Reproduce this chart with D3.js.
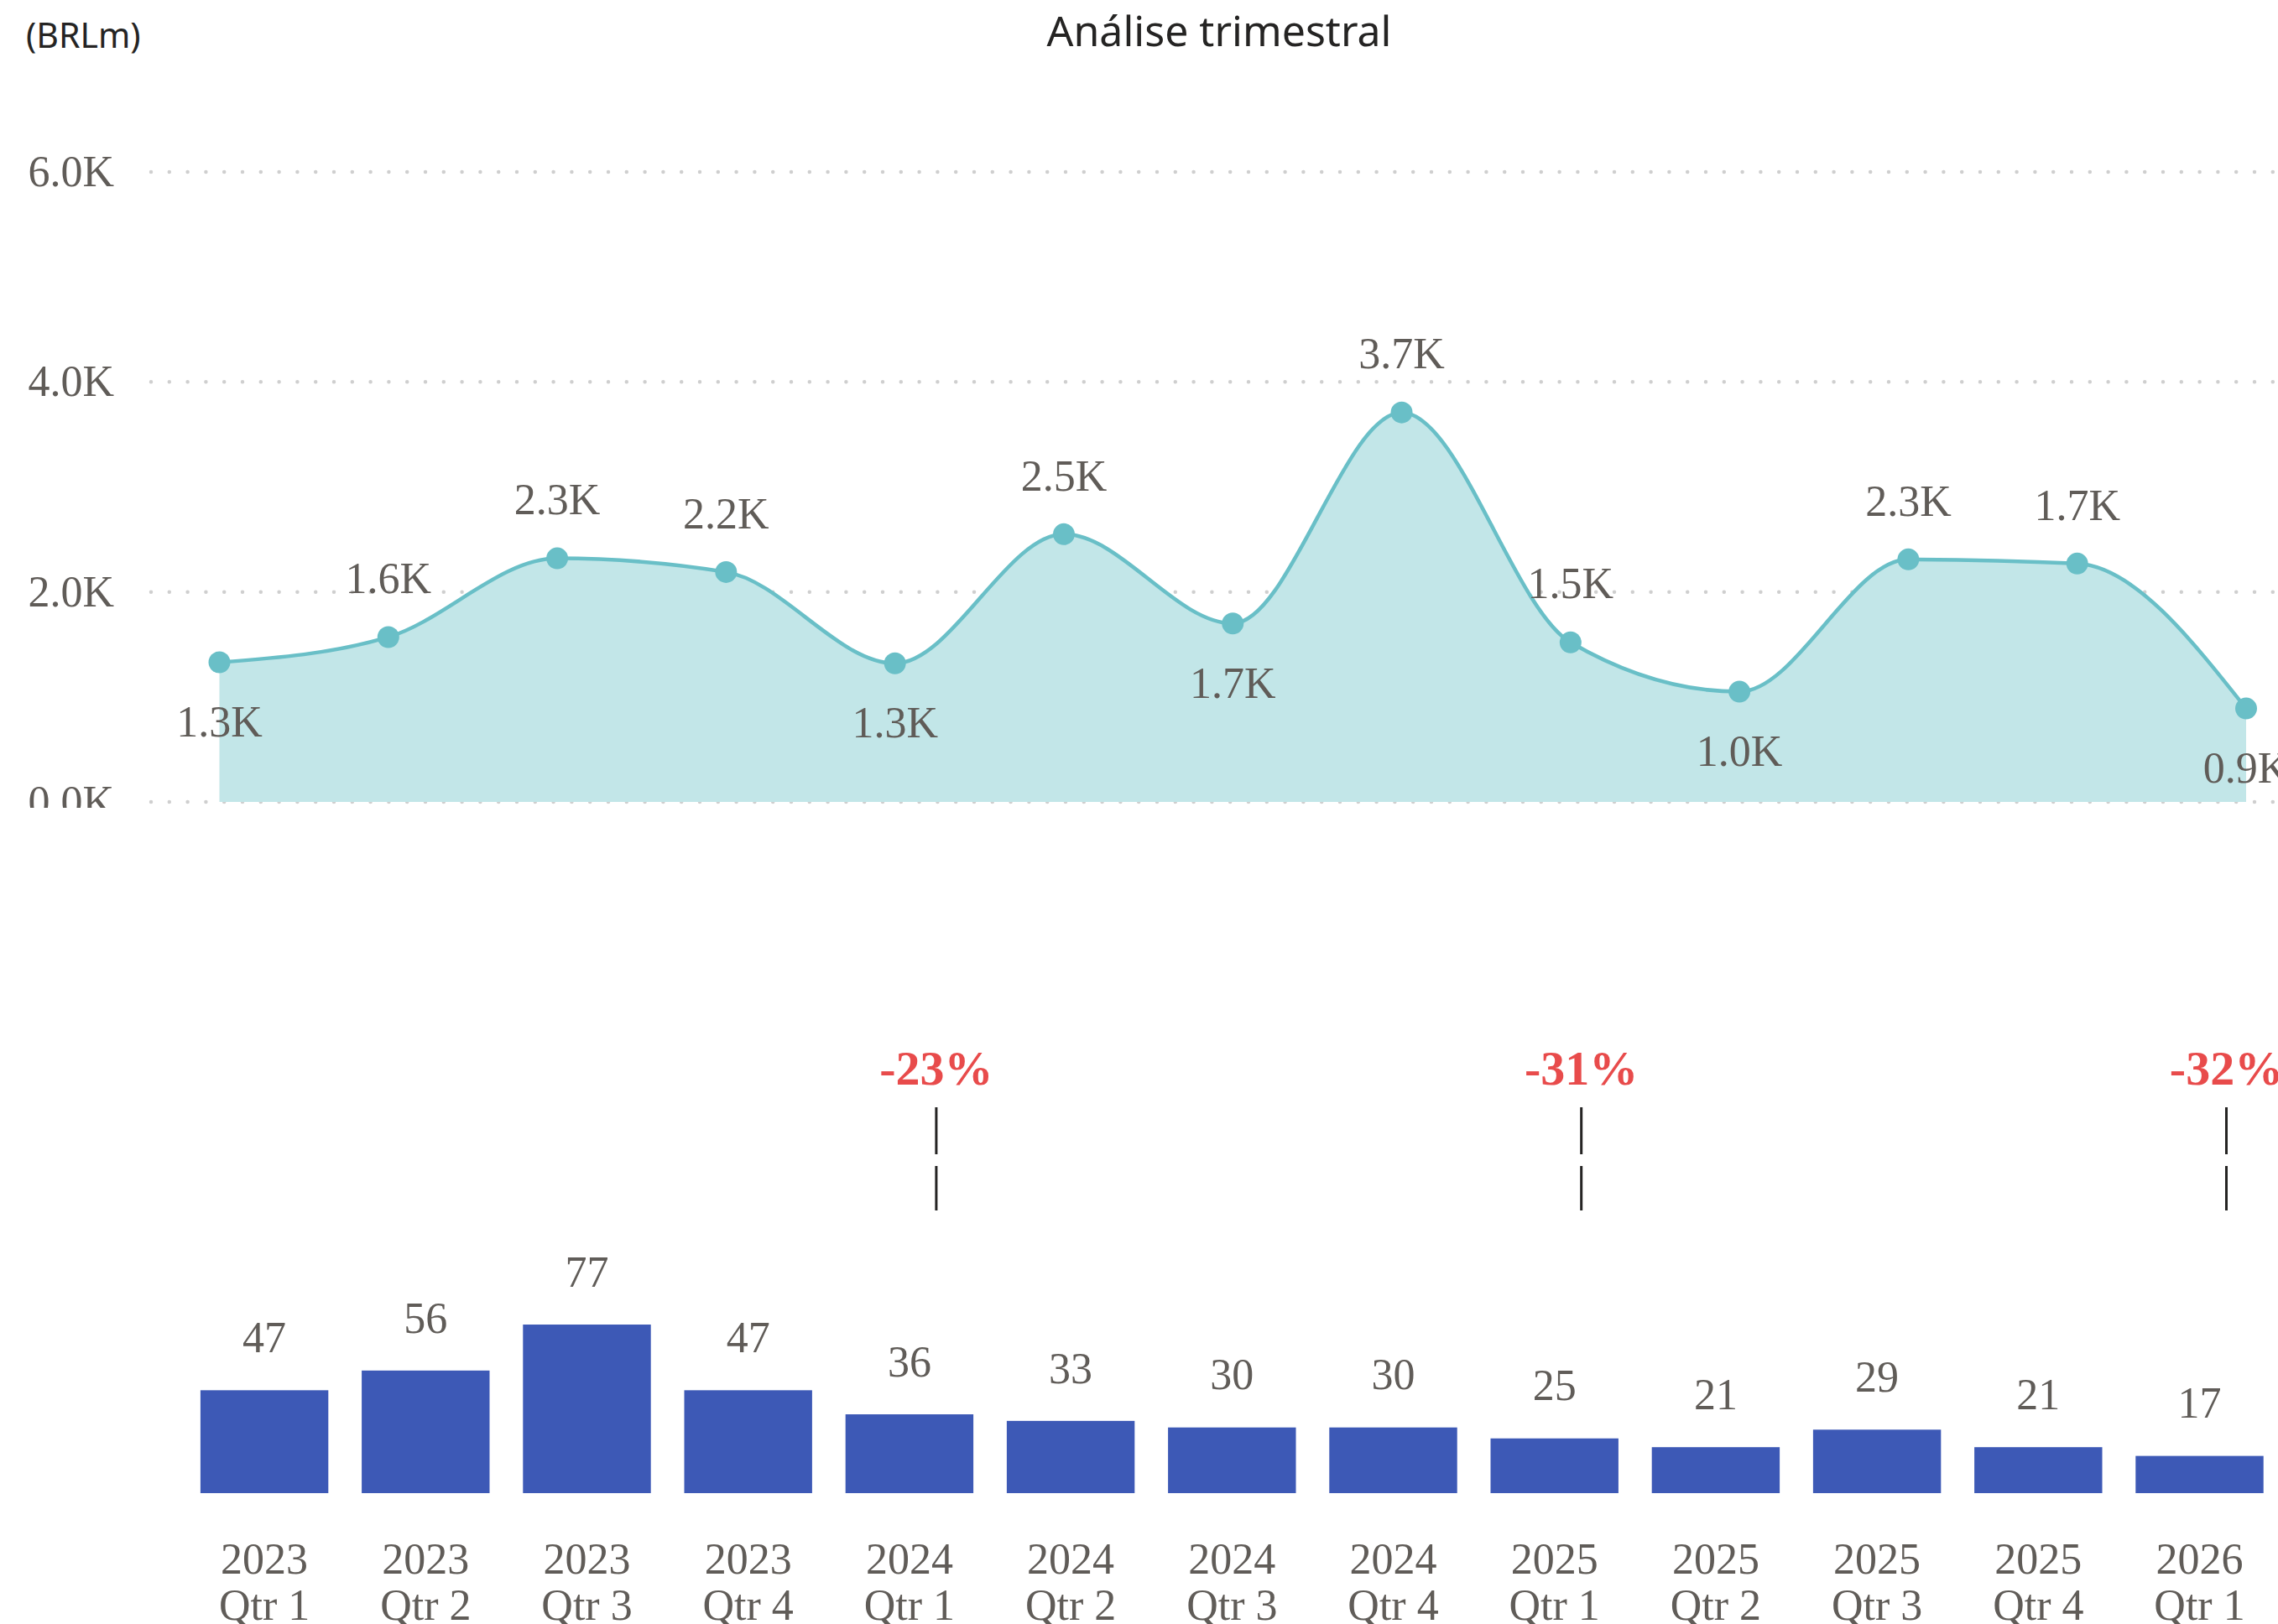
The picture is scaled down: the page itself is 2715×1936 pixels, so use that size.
<!DOCTYPE html>
<html>
<head>
<meta charset="utf-8">
<script src="https://cdn.jsdelivr.net/npm/d3@7"></script>
<style>
    body { margin: 0; background: #fff; }
    svg { display: block; }
    .serif { font-family: "Liberation Serif", "Times New Roman", serif; fill: #605c58; }
</style>
</head>
<body>
<div id="chart"></div>
<script>

    // quarter categories, shared by both panels
    var categories = ["2023 Qtr 1", "2023 Qtr 2", "2023 Qtr 3", "2023 Qtr 4",
                      "2024 Qtr 1", "2024 Qtr 2", "2024 Qtr 3", "2024 Qtr 4",
                      "2025 Qtr 1", "2025 Qtr 2", "2025 Qtr 3", "2025 Qtr 4",
                      "2026 Qtr 1"];

    // top panel: area line (BRLm)
    var lineValues = [1330, 1570, 2320, 2190, 1320, 2550, 1700, 3710, 1520, 1050, 2310, 2270, 890];
    var lineLabels = ["1.3K", "1.6K", "2.3K", "2.2K", "1.3K", "2.5K", "1.7K", "3.7K", "1.5K", "1.0K", "2.3K", "1.7K", "0.9K"];
    var yTicks = [0, 2000, 4000, 6000];

    // bottom panel: bars
    var barValues = [47, 56, 77, 47, 36, 33, 30, 30, 25, 21, 29, 21, 17];

    // yearly change annotations
    var changeCats = ["2024 Qtr 1", "2025 Qtr 1", "2026 Qtr 1"];
    var changeLabels = ["-23%", "-31%", "-32%"];

    var W = 2715, H = 1936;

    var svg = d3.select("#chart")
        .append("svg")
        .attr("width", W)
        .attr("height", H);

    svg.append("rect").attr("width", W).attr("height", H).attr("fill", "#fff");

    // header texts
    svg.append("text")
        .attr("x", 31)
        .attr("y", 57)
        .style("font-family", "'Noto Sans', sans-serif")
        .style("font-size", "41px")
        .attr("fill", "#252423")
        .text("(BRLm)");

    svg.append("text")
        .attr("x", 1453)
        .attr("y", 55)
        .attr("text-anchor", "middle")
        .style("font-family", "'Noto Sans', sans-serif")
        .style("font-size", "50px")
        .attr("fill", "#252423")
        .text("Análise trimestral");

    // ---------- top chart ----------
    svg.append("clipPath").attr("id", "topclip")
        .append("rect").attr("x", 0).attr("y", 0).attr("width", W).attr("height", 963);

    var topG = svg.append("g").attr("clip-path", "url(#topclip)");

    var x = d3.scalePoint()
        .domain(categories)
        .range([261.5, 2677]);

    var y = d3.scaleLinear()
        .domain([0, 6000])
        .range([956, 205]);

    // dotted gridlines
    topG.append("g")
        .selectAll("line")
        .data(yTicks)
        .enter()
        .append("line")
        .attr("x1", 180)
        .attr("x2", W)
        .attr("y1", function (d) { return y(d); })
        .attr("y2", function (d) { return y(d); })
        .attr("stroke", "#cfcfcf")
        .attr("stroke-width", 4.5)
        .attr("stroke-linecap", "round")
        .attr("stroke-dasharray", "0 21.8");

    // y axis labels
    var yAxis = d3.axisLeft(y)
        .tickValues(yTicks)
        .tickSize(0)
        .tickPadding(0)
        .tickFormat(function (d) { return (d / 1000).toFixed(1) + "K"; });

    var gy = topG.append("g")
        .attr("transform", "translate(136,0)")
        .call(yAxis);
    gy.attr("font-family", null).attr("font-size", null);
    gy.select(".domain").remove();
    gy.selectAll("text")
        .attr("class", "serif")
        .style("font-size", "52px")
        .attr("fill", "#605c58");

    var pts = lineValues.map(function (v, i) { return {c: categories[i], v: v, label: lineLabels[i], i: i}; });

    var area = d3.area()
        .x(function (d) { return x(d.c); })
        .y0(y(0))
        .y1(function (d) { return y(d.v); })
        .curve(d3.curveMonotoneX);

    var line = d3.line()
        .x(function (d) { return x(d.c); })
        .y(function (d) { return y(d.v); })
        .curve(d3.curveMonotoneX);

    topG.append("path")
        .datum(pts)
        .attr("d", area)
        .attr("fill", "#c2e6e8");

    topG.append("path")
        .datum(pts)
        .attr("d", line)
        .attr("fill", "none")
        .attr("stroke", "#69bfc7")
        .attr("stroke-width", 4.5);

    topG.append("g")
        .selectAll("circle")
        .data(pts)
        .enter()
        .append("circle")
        .attr("cx", function (d) { return x(d.c); })
        .attr("cy", function (d) { return y(d.v); })
        .attr("r", 13)
        .attr("fill", "#69bfc7");

    // label goes below a point lower than its neighbours
    function below(d) {
        var prev = d.i > 0 ? lineValues[d.i - 1] : Infinity;
        var next = d.i < lineValues.length - 1 ? lineValues[d.i + 1] : Infinity;
        return d.v < prev && d.v < next;
    }

    topG.append("g")
        .selectAll("text")
        .data(pts)
        .enter()
        .append("text")
        .attr("class", "serif")
        .attr("x", function (d) { return x(d.c); })
        .attr("y", function (d) { return y(d.v) + (below(d) ? 71 : -70); })
        .attr("dy", "0.34em")
        .attr("text-anchor", "middle")
        .style("font-size", "52px")
        .text(function (d) { return d.label; });

    // ---------- bottom chart ----------
    var xb = d3.scaleBand()
        .domain(categories)
        .range([219, 2717.6])
        .paddingInner(0.207)
        .paddingOuter(0.1035);

    var yb = d3.scaleLinear()
        .domain([0, 80])
        .range([1780, 1571.2]);

    var bars = barValues.map(function (v, i) { return {c: categories[i], v: v}; });

    svg.append("g")
        .selectAll("rect")
        .data(bars)
        .enter()
        .append("rect")
        .attr("x", function (d) { return xb(d.c); })
        .attr("y", function (d) { return yb(d.v); })
        .attr("width", xb.bandwidth())
        .attr("height", function (d) { return yb(0) - yb(d.v); })
        .attr("fill", "#3d59b6");

    svg.append("g")
        .selectAll("text")
        .data(bars)
        .enter()
        .append("text")
        .attr("class", "serif")
        .attr("x", function (d) { return xb(d.c) + xb.bandwidth() / 2; })
        .attr("y", function (d) { return yb(d.v) - 63; })
        .attr("dy", "0.34em")
        .attr("text-anchor", "middle")
        .style("font-size", "52px")
        .text(function (d) { return d.v; });

    // two line category axis
    var xAxis = d3.axisBottom(xb).tickSize(0).tickPadding(0);
    var gx = svg.append("g")
        .attr("transform", "translate(0,1780)")
        .call(xAxis);
    gx.select(".domain").remove();
    gx.selectAll("text").remove();
    gx.selectAll(".tick")
        .append("text")
        .attr("class", "serif")
        .attr("text-anchor", "middle")
        .style("font-size", "52px")
        .each(function (d) {
            var parts = d.split(" Qtr ");
            var t = d3.select(this);
            t.append("tspan").attr("x", 0).attr("y", 96).text(parts[0]);
            t.append("tspan").attr("x", 0).attr("y", 151).text("Qtr " + parts[1]);
        });

    // change annotations
    var notes = svg.append("g")
        .selectAll("g")
        .data(changeCats)
        .enter()
        .append("g")
        .attr("transform", function (d) {
            return "translate(" + (xb(d) + xb.bandwidth() / 2 + 32) + ",0)";
        });

    notes.append("text")
        .attr("y", 1293)
        .attr("text-anchor", "middle")
        .style("font-family", "'Liberation Serif', 'Times New Roman', serif")
        .style("font-weight", "bold")
        .style("font-size", "58px")
        .attr("fill", "#e84b4b")
        .text(function (d, i) { return changeLabels[i]; });

    notes.append("line")
        .attr("x1", 0).attr("x2", 0)
        .attr("y1", 1320).attr("y2", 1443)
        .attr("stroke", "#252423")
        .attr("stroke-width", 3)
        .attr("stroke-dasharray", "56 14");

</script>
</body>
</html>
